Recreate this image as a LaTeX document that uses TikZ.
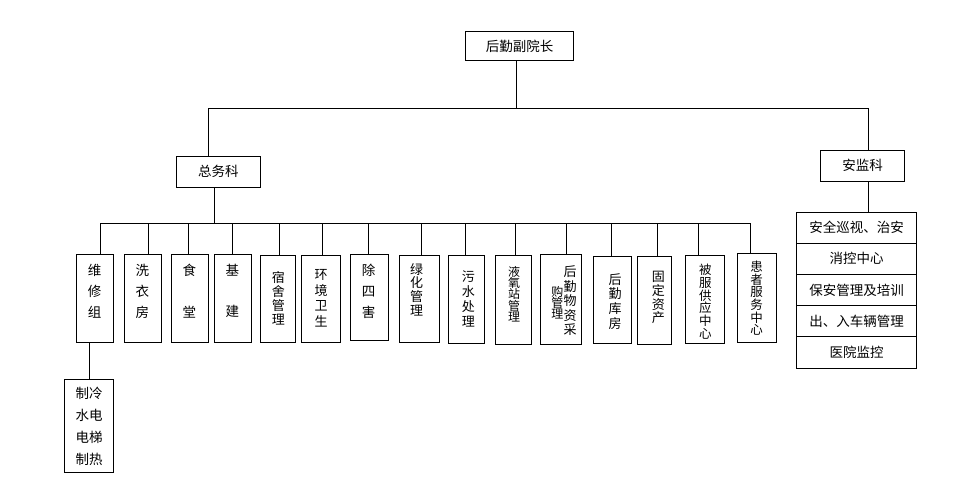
\documentclass[tikz,border=0pt]{standalone}
\usepackage{fontspec}
\setmainfont{Noto Sans CJK SC}
\tikzset{
  ln/.style={line width=0.75pt},
  bx/.style={draw, line width=0.75pt, inner sep=0pt, align=center,
    font={\fontsize{13.5}{16}\selectfont}},
  vt/.style 2 args={align=center, inner sep=0pt,
    font={\fontsize{#1}{#2}\selectfont\lineskiplimit=-100pt\lineskip=0pt}},
}
\begin{document}
\begin{tikzpicture}[x=1pt,y=-1pt]
\useasboundingbox (0,0) rectangle (970,502);
\fill[white] (0,0) rectangle (970,502);

% top levels
\node[bx, minimum width=107.6pt, minimum height=28.6pt] (top) at (519.5,46) {后勤副院长};
\node[bx, minimum width=84pt, minimum height=31.3pt] (zwk) at (218.3,171.7) {总务科};
\node[bx, minimum width=83.6pt, minimum height=30.3pt] (ajk) at (862.5,165.8) {安监科};

% safety list
\node[bx, minimum width=120pt, minimum height=31.2pt] (r1) at (856.7,227.6) {安全巡视、治安};
\node[bx, minimum width=120pt, minimum height=31.2pt] (r2) at (856.7,258.8) {消控中心};
\node[bx, minimum width=120pt, minimum height=31.2pt] (r3) at (856.7,290.0) {保安管理及培训};
\node[bx, minimum width=120pt, minimum height=31.2pt] (r4) at (856.7,321.2) {出、入车辆管理};
\node[bx, minimum width=120pt, minimum height=31.2pt] (r5) at (856.7,352.4) {医院监控};

% vertical boxes
\node[bx, minimum width=37pt,   minimum height=87.7pt] (b1)  at (94.8,298.2) {};
\node[bx, minimum width=37pt,   minimum height=87.7pt] (b2)  at (142.8,298.2) {};
\node[bx, minimum width=37pt,   minimum height=87.7pt] (b3)  at (189.8,298.2) {};
\node[bx, minimum width=37pt,   minimum height=87.7pt] (b4)  at (232.8,298.2) {};
\node[bx, minimum width=35pt,   minimum height=87pt]   (b5)  at (277.8,298.5) {};
\node[bx, minimum width=38.7pt, minimum height=87pt]   (b6)  at (320.7,298.5) {};
\node[bx, minimum width=37.7pt, minimum height=86.4pt] (b7)  at (369.2,297.5) {};
\node[bx, minimum width=39.7pt, minimum height=86.7pt] (b8)  at (419.2,298.7) {};
\node[bx, minimum width=36pt,   minimum height=88pt]   (b9)  at (466.5,299.3) {};
\node[bx, minimum width=36.4pt, minimum height=89pt]   (b10) at (513.5,299.5) {};
\node[bx, minimum width=41pt,   minimum height=90pt]   (b11) at (561.2,299.7) {};
\node[bx, minimum width=38.4pt, minimum height=86.6pt] (b12) at (612.5,300.0) {};
\node[bx, minimum width=34pt,   minimum height=88.3pt] (b13) at (654.3,300.2) {};
\node[bx, minimum width=39pt,   minimum height=88.3pt] (b14) at (704.8,299.2) {};
\node[bx, minimum width=39.7pt, minimum height=88.7pt] (b15) at (756.9,297.7) {};

% texts of vertical boxes
\node[vt={13.5}{21}]   (t1)  at (94.5,291)    {维\\修\\组};
\node[vt={13.5}{21}]   (t2)  at (142.3,291)   {洗\\衣\\房};
\node[vt={13.5}{41.7}] (t3)  at (189.3,291)   {食\\堂};
\node[vt={13.5}{41.7}] (t4)  at (232.3,291)   {基\\建};
\node[vt={13}{13.8}]   (t5)  at (278.3,298.4) {宿\\舍\\管\\理};
\node[vt={13}{15.6}]   (t6)  at (321,298.3)   {环\\境\\卫\\生};
\node[vt={13.5}{21}]   (t7)  at (368.7,291)   {除\\四\\害};
\node[vt={13}{13.7}]   (t8)  at (416.7,289.5) {绿\\化\\管\\理};
\node[vt={13}{15}]     (t9)  at (468.3,299.2) {污\\水\\处\\理};
\node[vt={12}{11.25}]  (t10) at (514,294.2)   {液\\氧\\站\\管\\理};
\node[vt={13}{14.6}]   (t11a) at (570,300.8)  {后\\勤\\物\\资\\采};
\node[vt={12}{11.2}]   (t11b) at (557.3,302.8) {购\\管\\理};
\node[vt={13}{14.7}]   (t12) at (615,301.3)   {后\\勤\\库\\房};
\node[vt={13}{13.7}]   (t13) at (658.3,297.8) {固\\定\\资\\产};
\node[vt={12.5}{12.7}] (t14) at (705.3,301.7) {被\\服\\供\\应\\中\\心};
\node[vt={12.5}{12.7}] (t15) at (756.7,298.3) {患\\者\\服\\务\\中\\心};

% sub box
\node[bx, minimum width=49.4pt, minimum height=93.4pt,
  font={\fontsize{13.5}{22}\selectfont}] (sub) at (89,426) {制冷\\水电\\电梯\\制热};

% junctions
\coordinate (j0) at (516,108);
\coordinate (jl) at (208.7,108);
\coordinate (jr) at (868.3,108);
\coordinate (zb) at (214.3,223.3);
\foreach \x [count=\i] in {100.7,148.3,188.3,232.3,279.3,322.7,368.3,421.3,465,515.3,566,611.7,657.3,698.3,750}
  \coordinate (d\i) at (\x,223.3);

% connectors
\draw[ln] (top.south -| j0) -- (j0);
\draw[ln] (zwk.north -| jl) -- (jl) -- (jr) -- (ajk.north -| jr);
\draw[ln] (zwk.south -| zb) -- (zb);
\draw[ln] (ajk.south -| jr) -- (r1.north -| jr);
\draw[ln] (d1) -- (d15);
\foreach \i in {1,...,15}
  \draw[ln] (d\i) -- (d\i |- b\i.north);
\draw[ln] (b1.south -| sub.north) -- (sub.north);
\end{tikzpicture}
\end{document}
